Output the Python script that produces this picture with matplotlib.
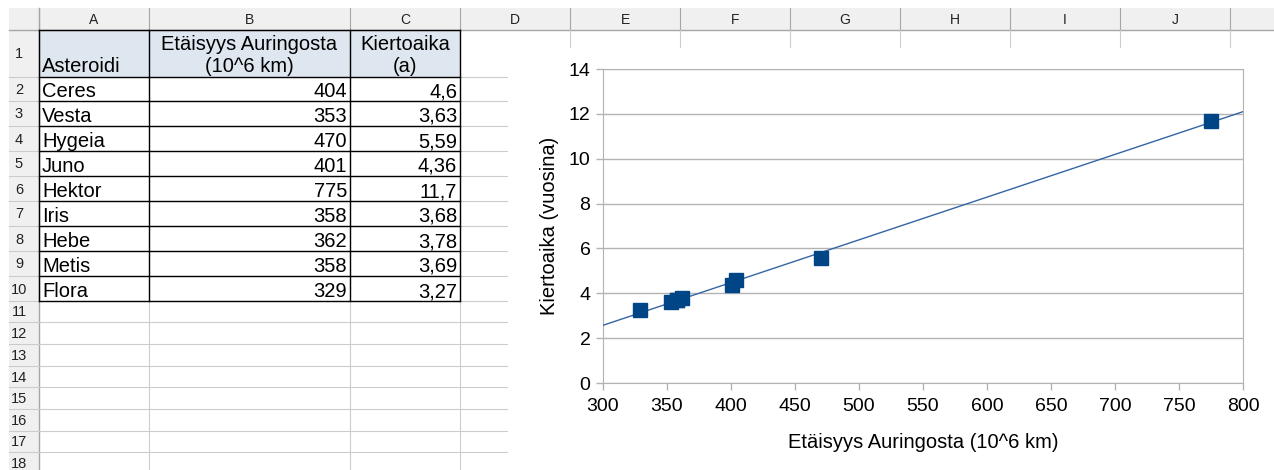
import numpy as np
import matplotlib.pyplot as plt
from matplotlib.patches import Rectangle

# data read from the sheet
asteroids = ["Ceres", "Vesta", "Hygeia", "Juno", "Hektor", "Iris", "Hebe", "Metis", "Flora"]
distance = [404, 353, 470, 401, 775, 358, 362, 358, 329]
period = [4.6, 3.63, 5.59, 4.36, 11.7, 3.68, 3.78, 3.69, 3.27]
col_letters = ["A", "B", "C", "D", "E", "F", "G", "H", "I", "J"]

FONT = "Liberation Sans"
W, H = 1274, 470

# sheet layout in pixels
col_edges = [39, 149, 350, 460, 570, 680, 790, 900, 1010, 1120, 1230, 1340]
row_edges = [30, 77, 101, 126, 151, 176, 201, 226, 251, 276, 301,
             322, 344, 366, 387, 409, 431, 452, 474]
grid_c = "#cccccc"
head_c = "#a6a6a6"

fig = plt.figure(figsize=(W / 100, H / 100), dpi=100)
bg = fig.add_axes([0, 0, 1, 1])
bg.set_xlim(0, W)
bg.set_ylim(H, 0)
bg.axis("off")

# header band and row header column
bg.add_patch(Rectangle((9, 8), W - 9, 22, facecolor="#f0f0f0", edgecolor="none"))
bg.add_patch(Rectangle((9, 30), 30, H - 30, facecolor="#f0f0f0", edgecolor="none"))

for i, x in enumerate(col_edges[:-1]):
    bg.plot([x, x], [8, 30], color=head_c, lw=0.8)
    if i < len(col_letters):
        xc = (x + col_edges[i + 1]) / 2
        bg.text(xc, 19.5, col_letters[i], ha="center", va="center",
                fontsize=10, family=FONT, color="#222222")
bg.plot([9, W], [30, 30], color=head_c, lw=1)
bg.plot([39, 39], [8, H], color=head_c, lw=1)

# grid lines of the sheet
for y in row_edges[1:]:
    bg.plot([9, 39], [y, y], color=grid_c, lw=0.8)
    bg.plot([39, 508], [y, y], color=grid_c, lw=0.8)
for x in col_edges[1:4]:
    bg.plot([x, x], [30, H], color=grid_c, lw=0.8)
for x in col_edges[4:]:
    bg.plot([x, x], [30, 48], color=grid_c, lw=0.8)

# row numbers
for r in range(len(row_edges) - 1):
    yc = (row_edges[r] + row_edges[r + 1]) / 2 + 1
    bg.text(19, yc, str(r + 1), ha="center", va="center", fontsize=10.5,
            family=FONT, color="#222222")

# header row of the table
bg.add_patch(Rectangle((39, 30), 421, 47, facecolor="#dee6ef", edgecolor="none"))
bg.text(42, 72, "Asteroidi", ha="left", va="baseline", fontsize=14.5, family=FONT)
bg.text(249.5, 50, "Etäisyys Auringosta", ha="center", va="baseline", fontsize=14.5, family=FONT)
bg.text(249.5, 72, "(10^6 km)", ha="center", va="baseline", fontsize=14.5, family=FONT)
bg.text(405, 50, "Kiertoaika", ha="center", va="baseline", fontsize=14.5, family=FONT)
bg.text(405, 72, "(a)", ha="center", va="baseline", fontsize=14.5, family=FONT)

for i, name in enumerate(asteroids):
    yb = row_edges[i + 2] - 4
    bg.text(42, yb, name, ha="left", va="baseline", fontsize=14.5, family=FONT)
    bg.text(347, yb, str(distance[i]), ha="right", va="baseline", fontsize=14.5, family=FONT)
    bg.text(457, yb, str(period[i]).replace(".", ","), ha="right", va="baseline",
            fontsize=14.5, family=FONT)

# black borders of A1:C10
top, bot = row_edges[0], row_edges[len(asteroids) + 1]
for y in row_edges[:len(asteroids) + 2]:
    bg.plot([39, 460], [y, y], color="black", lw=1)
for x in col_edges[:4]:
    bg.plot([x, x], [top, bot], color="black", lw=1)

# chart object covers the grid
bg.add_patch(Rectangle((508, 48), W - 508, H - 48, facecolor="white", edgecolor="none", zorder=5))

# chart
ax = fig.add_axes([603 / W, (H - 383) / H, 640 / W, 314 / H])
x = np.array(distance, dtype=float)
y = np.array(period)
slope, intercept = np.polyfit(x, y, 1)
xl = np.array([300, 800])
ax.plot(xl, slope * xl + intercept, color="#3465a4", lw=1, zorder=3)
ax.plot(x, y, linestyle="none", marker="s", markersize=9.5, color="#004586", zorder=4)

ax.set_xlim(300, 800)
ax.set_ylim(0, 14)
ax.set_xticks(np.arange(300, 801, 50))
ax.set_yticks(np.arange(0, 15, 2))
ax.grid(axis="y", color="#b3b3b3", lw=1)
ax.set_axisbelow(True)
for s in ax.spines.values():
    s.set_color("#b3b3b3")
ax.tick_params(colors="#b3b3b3", length=5, width=1, labelcolor="black", labelsize=14)
ax.tick_params(axis="x", pad=6)
ax.tick_params(axis="y", pad=4)
for lab in ax.get_xticklabels() + ax.get_yticklabels():
    lab.set_family(FONT)
ax.set_xlabel("Etäisyys Auringosta (10^6 km)", fontsize=14.5, family=FONT, labelpad=13)
ax.set_ylabel("Kiertoaika (vuosina)", fontsize=14.5, family=FONT, labelpad=7)

fig.savefig("out.png", dpi=100)
